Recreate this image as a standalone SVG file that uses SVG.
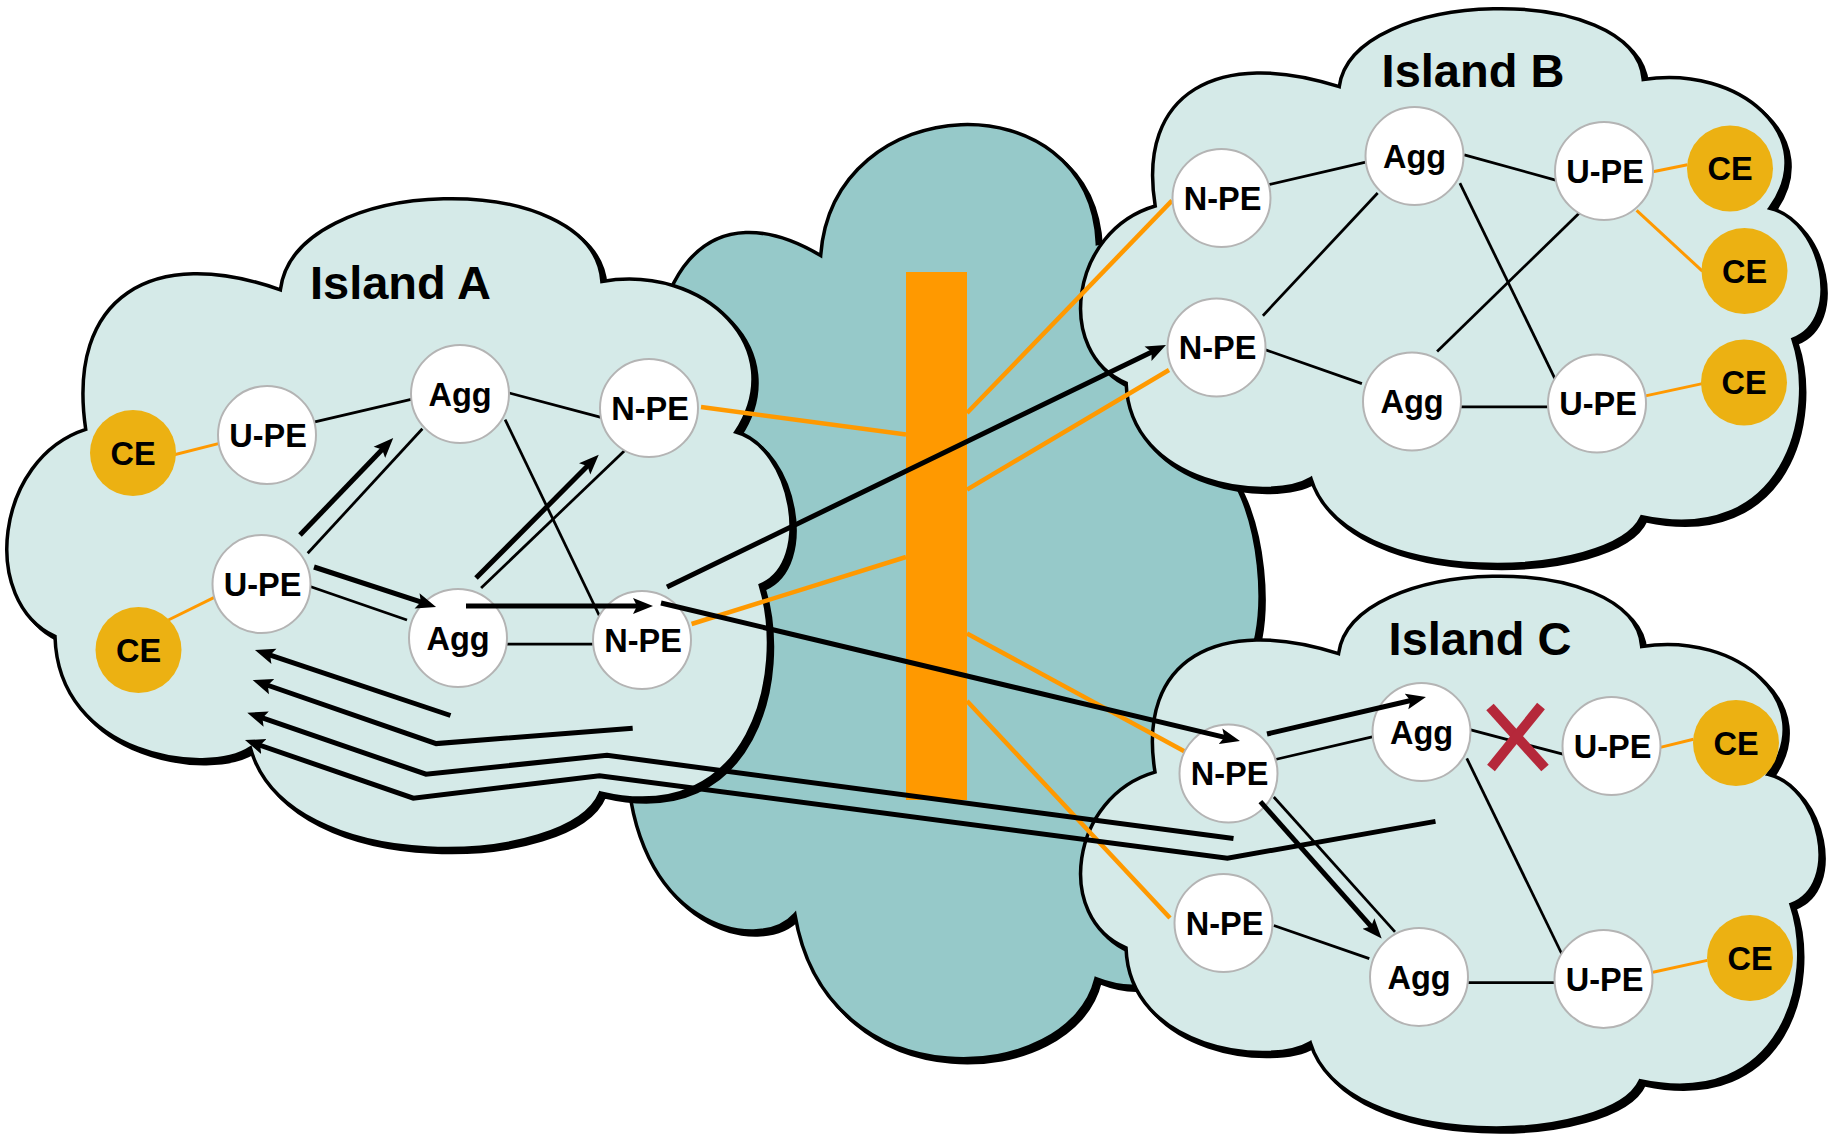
<svg xmlns="http://www.w3.org/2000/svg" xmlns:xlink="http://www.w3.org/1999/xlink" width="1836" height="1135" viewBox="0 0 1836 1135">
<defs>
<style>
.island{fill:#d5eae8;stroke:#000;stroke-width:3.5}
.core{fill:#96c9c9;stroke:#000;stroke-width:3.5}
.shadow{fill:#000;stroke:#000;stroke-width:3.5}
.node circle{fill:#fff;stroke:#b4b4b4;stroke-width:2}
.ce circle{fill:#ecb112;stroke:none}
.lbl{font-family:"Liberation Sans",Arial,sans-serif;font-weight:bold;font-size:32.5px;text-anchor:middle;fill:#000}
.title{font-size:47px}
.ln{stroke:#000;stroke-width:2.75;fill:none}
.ar{stroke:#000;stroke-width:5;fill:none;marker-end:url(#ah)}
.or{stroke:#f90;stroke-width:4.5;fill:none}
.oc{stroke:#f90;stroke-width:3;fill:none}
.x{stroke:#b5283a;stroke-width:10;fill:none}
</style>
<path id="cloud" vector-effect="non-scaling-stroke" d="M0.105,0.355 C0.08,0.15 0.19,0.07 0.352,0.14 C0.37,-0.04 0.75,-0.05 0.76,0.127 C0.89,0.1 1,0.23 0.93,0.359 C1,0.38 1.03,0.56 0.961,0.595 C0.995,0.73 0.95,0.97 0.758,0.915 C0.72,1.03 0.36,1.05 0.314,0.846 C0.26,0.89 0.07,0.86 0.066,0.674 C-0.03,0.62 -0.01,0.4 0.105,0.355 Z"/>
<marker id="ah" markerUnits="userSpaceOnUse" markerWidth="21" markerHeight="17" refX="11" refY="8.5" orient="auto">
<path d="M0,0.5 L20,8.5 L0,16.5 L4,8.5 Z" fill="#000"/>
</marker>
</defs>
<rect width="1836" height="1135" fill="#fff"/>

<g id="clouds">
<g id="core-cloud">
<use xlink:href="#cloud" href="#cloud" class="shadow" transform="translate(586,129) scale(678,933)"/>
<use xlink:href="#cloud" href="#cloud" class="core" transform="translate(582,125) scale(678,933)"/>
</g>
<g id="island-a-cloud">
<use xlink:href="#cloud" href="#cloud" class="shadow" transform="translate(7,203) scale(788,649)"/>
<use xlink:href="#cloud" href="#cloud" class="island" transform="translate(3,199) scale(788,649)"/>
</g>
<g id="island-b-cloud">
<use xlink:href="#cloud" href="#cloud" class="shadow" transform="translate(1081,13) scale(745,555)"/>
<use xlink:href="#cloud" href="#cloud" class="island" transform="translate(1077,9) scale(745,555)"/>
</g>
<g id="island-c-cloud">
<use xlink:href="#cloud" href="#cloud" class="shadow" transform="translate(1081,580.5) scale(743,551)"/>
<use xlink:href="#cloud" href="#cloud" class="island" transform="translate(1077,576.5) scale(743,551)"/>
</g>
</g>

<g id="core-bar"><rect x="906" y="272" width="61" height="528" fill="#f90"/></g>

<g id="titles">
<text class="lbl title" x="400.5" y="298.7">Island A</text>
<text class="lbl title" x="1473" y="86.6">Island B</text>
<text class="lbl title" x="1480" y="654.8">Island C</text>
</g>

<g id="connectors">
<line class="or" x1="701" y1="407" x2="906" y2="434.5"/>
<line class="or" x1="691.6" y1="624" x2="906" y2="557"/>
<line class="or" x1="967" y1="413" x2="1172" y2="200.6"/>
<line class="or" x1="967" y1="489.6" x2="1169" y2="370"/>
<line class="or" x1="967" y1="633.5" x2="1187.5" y2="753"/>
<line class="or" x1="967" y1="701" x2="1170" y2="918"/>
<line class="oc" x1="168.4" y1="456.3" x2="218.4" y2="443.6"/>
<line class="oc" x1="168.4" y1="620" x2="215.8" y2="596.6"/>
<line class="oc" x1="1652.9" y1="171.7" x2="1687.5" y2="164.8"/>
<line class="oc" x1="1636.6" y1="210.3" x2="1702.4" y2="271.2"/>
<line class="oc" x1="1645.5" y1="395.9" x2="1702.4" y2="383.6"/>
<line class="oc" x1="1660.3" y1="747.4" x2="1693.5" y2="739.3"/>
<line class="oc" x1="1652.9" y1="972.2" x2="1707.3" y2="960.4"/>
<line class="ln" x1="313.8" y1="422.1" x2="412.2" y2="399.2"/>
<line class="ln" x1="509.2" y1="393" x2="602" y2="417.6"/>
<line class="ln" x1="505.1" y1="419.6" x2="599.5" y2="616"/>
<line class="ln" x1="307.7" y1="553.3" x2="422.4" y2="428.8"/>
<line class="ln" x1="308.7" y1="586" x2="407" y2="620"/>
<line class="ln" x1="506.6" y1="644" x2="592.9" y2="644"/>
<line class="ln" x1="481.1" y1="588" x2="625" y2="450.2"/>
<line class="ln" x1="1268.8" y1="184.6" x2="1366.8" y2="161.8"/>
<line class="ln" x1="1464.3" y1="154.9" x2="1557.4" y2="180.6"/>
<line class="ln" x1="1459.9" y1="183.1" x2="1554.9" y2="378.6"/>
<line class="ln" x1="1262.9" y1="315.7" x2="1377.7" y2="193"/>
<line class="ln" x1="1262.9" y1="348.9" x2="1361.9" y2="383.6"/>
<line class="ln" x1="1460.9" y1="406.8" x2="1547.5" y2="406.8"/>
<line class="ln" x1="1579.6" y1="212.8" x2="1437.1" y2="351.4"/>
<line class="ln" x1="1275.3" y1="759.5" x2="1374.3" y2="736.3"/>
<line class="ln" x1="1469.8" y1="729.7" x2="1564.8" y2="754.7"/>
<line class="ln" x1="1466.8" y1="758.4" x2="1562.3" y2="955"/>
<line class="ln" x1="1273.8" y1="925.5" x2="1369.3" y2="958.6"/>
<line class="ln" x1="1468.3" y1="982.5" x2="1554.9" y2="982.5"/>
<line class="ln" x1="1273.8" y1="797" x2="1395" y2="931.8"/>
</g>

<g id="nodes">
<g id="a-ce1" class="ce"><circle cx="133" cy="453" r="43"/><text class="lbl" x="133" y="464.5">CE</text></g>
<g id="a-ce2" class="ce"><circle cx="138.5" cy="650" r="43"/><text class="lbl" x="138.5" y="661.5">CE</text></g>
<g id="a-upe1" class="node"><circle cx="267" cy="435" r="49"/><text class="lbl" x="268" y="446.5">U-PE</text></g>
<g id="a-upe2" class="node"><circle cx="261.5" cy="584" r="49"/><text class="lbl" x="262.5" y="595.5">U-PE</text></g>
<g id="a-agg1" class="node"><circle cx="460" cy="394" r="49"/><text class="lbl" x="460" y="405.5">Agg</text></g>
<g id="a-agg2" class="node"><circle cx="458" cy="638" r="49"/><text class="lbl" x="458" y="649.5">Agg</text></g>
<g id="a-npe1" class="node"><circle cx="649" cy="408" r="49"/><text class="lbl" x="650" y="419.5">N-PE</text></g>
<g id="a-npe2" class="node"><circle cx="642" cy="640" r="49"/><text class="lbl" x="643" y="651.5">N-PE</text></g>

<g id="b-npe1" class="node"><circle cx="1221.5" cy="198" r="49"/><text class="lbl" x="1222.5" y="209.5">N-PE</text></g>
<g id="b-npe2" class="node"><circle cx="1216.5" cy="347.5" r="49"/><text class="lbl" x="1217.5" y="359">N-PE</text></g>
<g id="b-agg1" class="node"><circle cx="1414.5" cy="156" r="49"/><text class="lbl" x="1414.5" y="167.5">Agg</text></g>
<g id="b-agg2" class="node"><circle cx="1412" cy="401.5" r="49"/><text class="lbl" x="1412" y="413">Agg</text></g>
<g id="b-upe1" class="node"><circle cx="1604" cy="171" r="49"/><text class="lbl" x="1605" y="182.5">U-PE</text></g>
<g id="b-upe2" class="node"><circle cx="1597" cy="403.5" r="49"/><text class="lbl" x="1598" y="415">U-PE</text></g>
<g id="b-ce1" class="ce"><circle cx="1730" cy="168.5" r="43"/><text class="lbl" x="1730" y="180">CE</text></g>
<g id="b-ce2" class="ce"><circle cx="1744.5" cy="271" r="43"/><text class="lbl" x="1744.5" y="282.5">CE</text></g>
<g id="b-ce3" class="ce"><circle cx="1744" cy="382.5" r="43"/><text class="lbl" x="1744" y="394">CE</text></g>

<g id="c-npe1" class="node"><circle cx="1228.5" cy="773.5" r="49"/><text class="lbl" x="1229.5" y="785">N-PE</text></g>
<g id="c-npe2" class="node"><circle cx="1223.5" cy="923" r="49"/><text class="lbl" x="1224.5" y="934.5">N-PE</text></g>
<g id="c-agg1" class="node"><circle cx="1421.5" cy="732" r="49"/><text class="lbl" x="1421.5" y="743.5">Agg</text></g>
<g id="c-agg2" class="node"><circle cx="1419" cy="977" r="49"/><text class="lbl" x="1419" y="988.5">Agg</text></g>
<g id="c-upe1" class="node"><circle cx="1611.5" cy="746" r="49"/><text class="lbl" x="1612.5" y="757.5">U-PE</text></g>
<g id="c-upe2" class="node"><circle cx="1603.5" cy="979" r="49"/><text class="lbl" x="1604.5" y="990.5">U-PE</text></g>
<g id="c-ce1" class="ce"><circle cx="1736" cy="743" r="43"/><text class="lbl" x="1736" y="754.5">CE</text></g>
<g id="c-ce2" class="ce"><circle cx="1750" cy="958" r="43"/><text class="lbl" x="1750" y="969.5">CE</text></g>
</g>

<g id="failure">
<line class="x" x1="1490" y1="707" x2="1545" y2="768"/>
<line class="x" x1="1541" y1="706" x2="1491" y2="768"/>
</g>

<g id="flows">
<line class="ar" x1="300" y1="535" x2="387" y2="444.4"/>
<line class="ar" x1="314" y1="567" x2="427.5" y2="604.2"/>
<line class="ar" x1="476" y1="578" x2="592.4" y2="461.1"/>
<line class="ar" x1="466" y1="606" x2="644" y2="606"/>
<line class="ar" x1="667" y1="587" x2="1157.9" y2="349"/>
<line class="ar" x1="661" y1="603" x2="1231.2" y2="738.9"/>
<line class="ar" x1="1267" y1="734" x2="1417.2" y2="699"/>
<line class="ar" x1="1260.4" y1="801.7" x2="1375.7" y2="931.7"/>
<polyline class="ar" points="450.5,715.5 263.5,652.9"/>
<polyline class="ar" points="632.7,728.3 436.2,743.6 261.2,683"/>
<polyline class="ar" points="1233.5,838.6 607,755.3 426,774.2 255.8,715.6"/>
<polyline class="ar" points="1435.5,821.4 1227.4,858.2 599.5,775.7 413.3,798.2 253.5,743"/>
</g>
</svg>
